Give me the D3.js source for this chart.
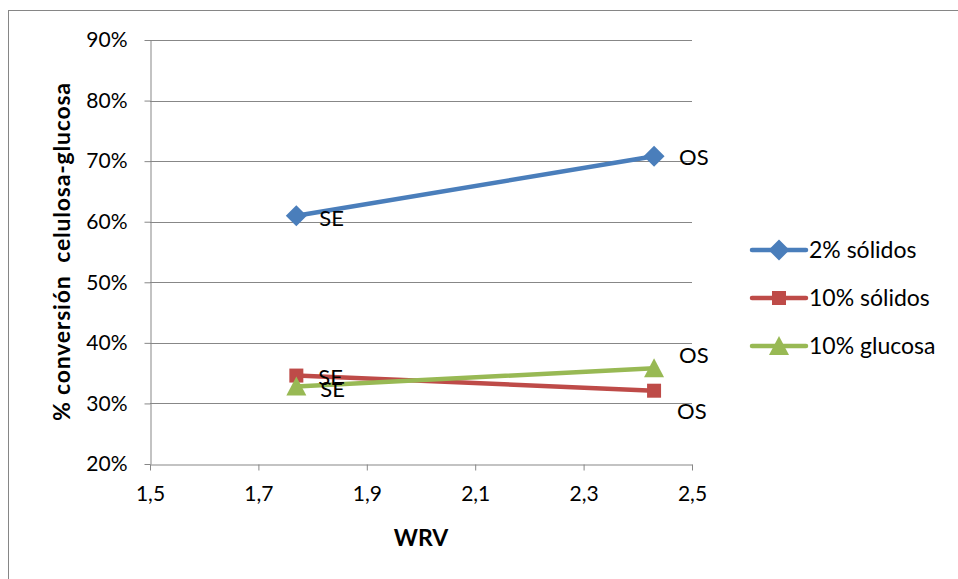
<!DOCTYPE html>
<html>
<head>
<meta charset="utf-8">
<script src="https://cdn.jsdelivr.net/npm/d3@7"></script>
<style>
  html, body { margin: 0; padding: 0; background: #fff; }
  svg { display: block; font-family: Lato, "Open Sans", sans-serif; }
</style>
</head>
<body>
<svg id="chart" width="958" height="579"></svg>
<script>
// WRV values for the two pulps (SE / OS)
const wrv = [1.77, 2.43];
const pointLabels = ["SE", "OS"];

// Conversion celulosa-glucosa (%) per series
const seriesNames = ["2% sólidos", "10% sólidos", "10% glucosa"];
const solidos2 = [61.0, 70.8];
const solidos10 = [34.6, 32.1];
const glucosa10 = [32.8, 35.8];
const seriesColors = ["#4a7ebb", "#be4b48", "#98b954"];
const seriesMarkers = ["diamond", "square", "triangle"];

const xTicks = [1.5, 1.7, 1.9, 2.1, 2.3, 2.5];
const yTicks = [20, 30, 40, 50, 60, 70, 80, 90];

const FS = 21;      // tick labels
const FS_TEXT = 23; // legend, point labels and titles

const series = [solidos2, solidos10, glucosa10].map((vals, i) => ({
  name: seriesNames[i], color: seriesColors[i], marker: seriesMarkers[i],
  points: vals.map((v, j) => ({ x: wrv[j], y: v, label: pointLabels[j] }))
}));

// marker shapes: rotated square, square, triangle
function markerPath(kind) {
  if (kind === "diamond") return "M0,-10.5L10.5,0L0,10.5L-10.5,0Z";
  if (kind === "square") return "M-7,-7H7V7H-7Z";
  return "M0,-10L10,9H-10Z";
}

const svg = d3.select("#chart");

// outer chart frame
svg.append("rect").attr("x", 8.5).attr("y", 10.5).attr("width", 1000).attr("height", 1000)
  .attr("fill", "none").attr("stroke", "#868686").attr("stroke-width", 1);

const x = d3.scaleLinear().domain([1.5, 2.5]).range([150, 692]);
const y = d3.scaleLinear().domain([20, 90]).range([464, 40]);

// horizontal gridlines
svg.append("g").selectAll("line").data(yTicks.slice(1)).join("line")
  .attr("x1", x(1.5)).attr("x2", x(2.5))
  .attr("y1", d => Math.round(y(d)) + 0.5).attr("y2", d => Math.round(y(d)) + 0.5)
  .attr("stroke", "#878787").attr("stroke-width", 1);

const fmtX = d => d3.format(".1f")(d).replace(".", ",");

const xAxis = svg.append("g").attr("transform", `translate(0,${Math.round(y(20)) + 0.5})`)
  .call(d3.axisBottom(x).tickValues(xTicks).tickFormat(fmtX).tickSizeInner(6).tickSizeOuter(0).tickPadding(16));
const yAxis = svg.append("g").attr("transform", `translate(${Math.round(x(1.5)) + 0.5},0)`)
  .call(d3.axisLeft(y).tickValues(yTicks).tickFormat(d => d + "%").tickSizeInner(6).tickSizeOuter(0).tickPadding(17));

[xAxis, yAxis].forEach(g => {
  g.select(".domain").attr("stroke", "#878787");
  g.selectAll(".tick line").attr("stroke", "#878787");
  g.selectAll(".tick text").attr("font-size", FS).attr("fill", "#000")
    .attr("font-family", "Lato, 'Open Sans', sans-serif");
});

// axis titles
svg.append("text").attr("x", x(2.0)).attr("y", 546).attr("text-anchor", "middle")
  .attr("font-size", FS_TEXT).attr("font-weight", "bold").text("WRV");
svg.append("text").attr("transform", `translate(70,${y(55)}) rotate(-90)`)
  .attr("text-anchor", "middle").attr("font-size", FS_TEXT).attr("font-weight", "bold")
  .attr("textLength", 338).attr("lengthAdjust", "spacing")
  .attr("xml:space", "preserve").text("% conversión  celulosa-glucosa");

// series lines and markers
const line = d3.line().x(d => x(d.x)).y(d => y(d.y));
series.forEach(s => {
  svg.append("path").datum(s.points).attr("d", line)
    .attr("fill", "none").attr("stroke", s.color).attr("stroke-width", 4.5).attr("stroke-linecap", "round");
});
series.forEach(s => {
  svg.append("g").selectAll("path").data(s.points).join("path")
    .attr("transform", d => `translate(${x(d.x)},${y(d.y)})`)
    .attr("d", markerPath(s.marker)).attr("fill", s.color);
});

// point labels (SE / OS)
const labelOffsets = [
  [[23, 10], [25, 9]],
  [[22, 9], [23, 28]],
  [[24, 11], [25, -5]]
];
series.forEach((s, i) => {
  svg.append("g").selectAll("text").data(s.points).join("text")
    .attr("x", (d, j) => x(d.x) + labelOffsets[i][j][0])
    .attr("y", (d, j) => y(d.y) + labelOffsets[i][j][1])
    .attr("font-size", FS_TEXT - 1).attr("fill", "#000").text(d => d.label);
});

// legend
const legend = svg.append("g");
series.forEach((s, i) => {
  const ly = 250 + i * 48;
  legend.append("line").attr("x1", 752).attr("x2", 806).attr("y1", ly).attr("y2", ly)
    .attr("stroke", s.color).attr("stroke-width", 4.5).attr("stroke-linecap", "round");
  legend.append("path").attr("transform", `translate(779,${ly})`)
    .attr("d", markerPath(s.marker)).attr("fill", s.color);
  legend.append("text").attr("x", 809).attr("y", ly + 8).attr("font-size", FS_TEXT).text(s.name);
});
</script>
</body>
</html>
